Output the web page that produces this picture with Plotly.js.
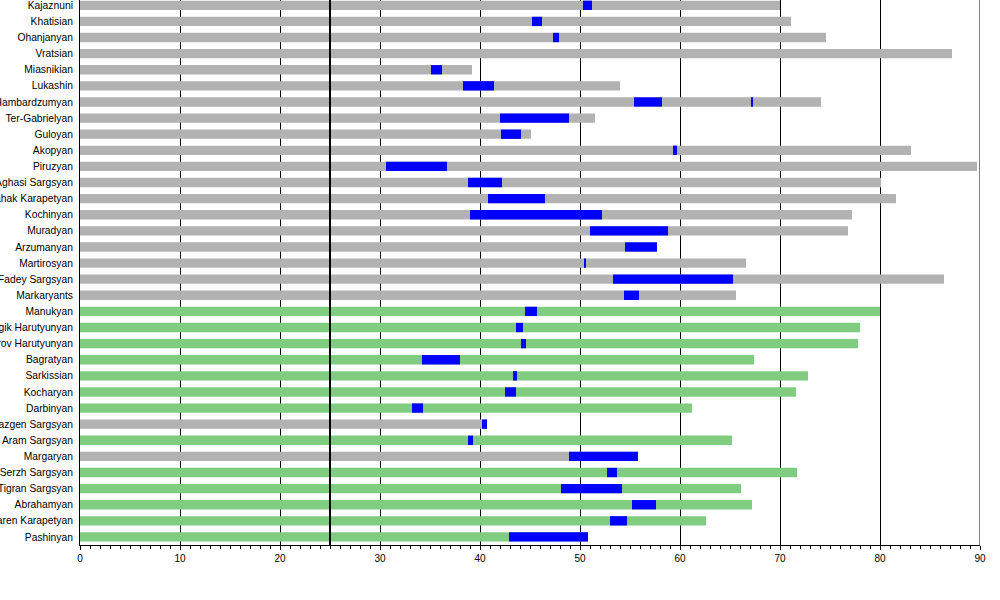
<!DOCTYPE html>
<html>
<head>
<meta charset="utf-8">
<script src="https://cdn.plot.ly/plotly-3.0.1.min.js"></script>
<style>html,body{margin:0;padding:0;background:#fff;}#chart{width:1000px;height:600px;}</style>
</head>
<body>
<div id="chart"></div>
<script>
// Prime ministers, top to bottom
var names = ["Kajaznuni","Khatisian","Ohanjanyan","Vratsian","Miasnikian","Lukashin","Hambardzumyan","Ter-Gabrielyan","Guloyan","Akopyan","Piruzyan","Aghasi Sargsyan","Sahak Karapetyan","Kochinyan","Muradyan","Arzumanyan","Martirosyan","Fadey Sargsyan","Markaryants","Manukyan","Vagik Harutyunyan","Khosrov Harutyunyan","Bagratyan","Sarkissian","Kocharyan","Darbinyan","Vazgen Sargsyan","Aram Sargsyan","Margaryan","Serzh Sargsyan","Tigran Sargsyan","Abrahamyan","Karen Karapetyan","Pashinyan"];
// age at death (or current age)
var lifeAge = [70.0,71.1,74.6,87.2,39.2,54.0,74.1,51.5,45.1,83.1,89.7,80.1,81.6,77.2,76.8,57.7,66.6,86.4,65.6,80.0,78.0,77.8,67.4,72.8,71.6,61.2,40.7,65.2,55.8,71.7,66.1,67.2,62.6,50.8];
// still living
var alive = [false,false,false,false,false,false,false,false,false,false,false,false,false,false,false,false,false,false,false,true,true,true,true,true,true,true,false,true,false,true,true,true,true,true];
// age at start / end of term in office
var termStart = [50.3,45.2,47.3,null,35.1,38.3,55.4,42.0,42.1,59.3,30.6,38.8,40.8,39.0,51.0,54.5,50.4,53.3,54.4,44.5,43.6,44.1,34.2,43.3,42.5,33.2,40.2,38.8,48.9,52.7,48.1,55.2,53.0,42.9];
var termEnd   = [51.2,46.2,47.9,null,36.2,41.4,58.2,48.9,44.1,59.7,36.7,42.2,46.5,52.2,58.8,57.7,50.6,65.3,55.9,45.7,44.3,44.6,38.0,43.7,43.6,34.3,40.7,39.3,55.8,53.7,54.2,57.6,54.7,50.8];
// second term
var term2Name = ["Hambardzumyan"];
var term2Start = [67.1];
var term2End = [67.3];

var GREY = "#b2b2b2", GREEN = "#80cc80", BLUE = "#0000ff";

var lifeTrace = {
  type: "bar", orientation: "h", y: names, x: lifeAge, base: 0,
  width: 0.58,
  marker: {color: alive.map(function(a){return a ? GREEN : GREY;}), line: {width: 0}}
};
var termTrace = {
  type: "bar", orientation: "h", y: names,
  base: termStart,
  x: termStart.map(function(s, i){ return s === null ? null : termEnd[i] - s; }),
  width: 0.58,
  marker: {color: BLUE, line: {width: 0}}
};
var term2Trace = {
  type: "bar", orientation: "h", y: term2Name,
  base: term2Start,
  x: term2Start.map(function(s, i){ return term2End[i] - s; }),
  width: 0.58,
  marker: {color: BLUE, line: {width: 0}}
};

var layout = {
  width: 1000, height: 600,
  margin: {l: 80, r: 20, t: 0, b: 55, pad: 0},
  paper_bgcolor: "#fff", plot_bgcolor: "#fff",
  barmode: "overlay",
  showlegend: false,
  hovermode: false,
  font: {family: "Liberation Sans, Arial, sans-serif", size: 10, color: "#000"},
  xaxis: {
    range: [0, 90], dtick: 10, tick0: 0,
    showgrid: true, gridcolor: "#000", gridwidth: 1,
    zeroline: false,
    showline: true, linecolor: "#000", linewidth: 1,
    ticks: "outside", ticklen: 4, tickcolor: "#000", tickwidth: 1,
    minor: {dtick: 1, ticks: "outside", ticklen: 3, tickcolor: "#000", showgrid: false},
    tickfont: {size: 10, color: "#000"},
    fixedrange: true
  },
  yaxis: {
    type: "category",
    categoryorder: "array", categoryarray: names,
    range: [33.5, -0.33],
    showgrid: false, zeroline: false,
    showline: true, linecolor: "#000", linewidth: 1,
    ticks: "", automargin: false,
    ticklabelstandoff: 4,
    tickfont: {size: 10.3, color: "#000"},
    fixedrange: true
  },
  shapes: [
    {type: "line", xref: "x", yref: "paper", x0: 25, x1: 25, y0: 0, y1: 1,
     line: {color: "#000", width: 2}, layer: "above"},
    {type: "line", xref: "x", yref: "paper", x0: 90, x1: 90, y0: 0, y1: 1,
     line: {color: "#000", width: 1}, layer: "below"}
  ]
};

Plotly.newPlot("chart", [lifeTrace, termTrace, term2Trace], layout, {displayModeBar: false, staticPlot: true});
</script>
</body>
</html>
